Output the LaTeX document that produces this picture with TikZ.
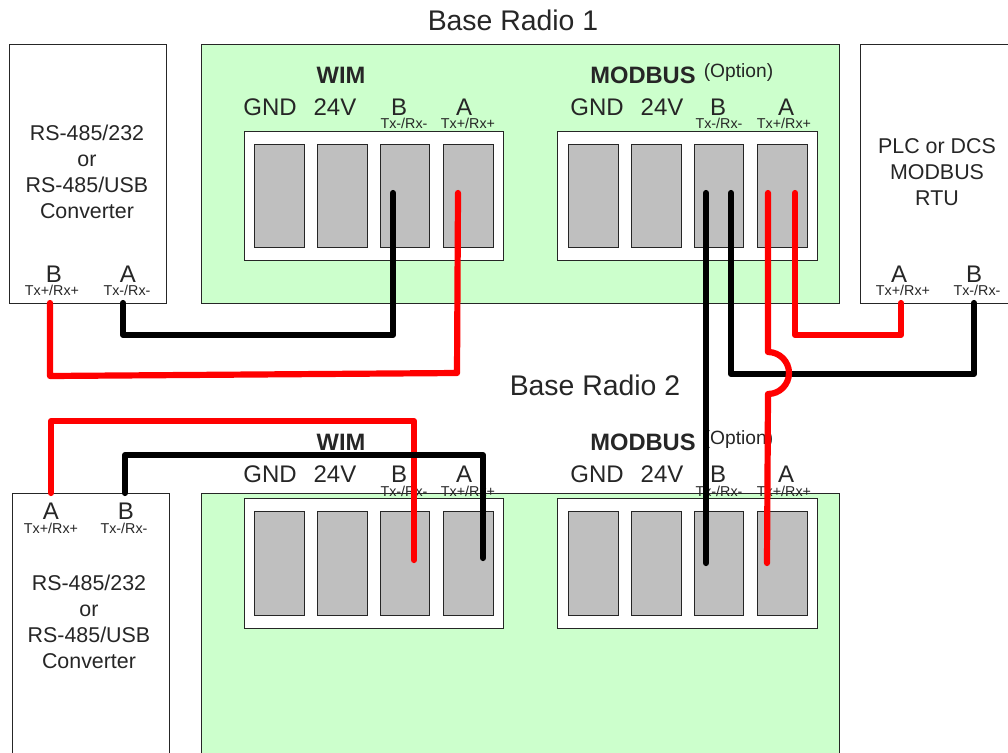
\documentclass[tikz,border=0pt]{standalone}
\usepackage{fontspec}
\setmainfont{Liberation Sans}
\newcommand{\fsz}[1]{\fontsize{#1}{26}\selectfont}
\tikzset{
  x=1pt,y=-1pt,
  boxbase/.style={draw=black!85,line width=1.3pt,anchor=north west,inner sep=0pt,rectangle},
  devbox/.style={boxbase,fill=white},
  radio/.style={boxbase,fill=baseg},
  strip/.style={boxbase,fill=white},
  term/.style={boxbase,fill=termg,minimum width=#1,minimum height=103.5pt},
  ttl/.style={inner sep=0pt,text=txt,font=\fsz{28.4}},
  pin/.style={inner sep=0pt,text=txt,font=\fsz{24}},
  hdr/.style={inner sep=0pt,text=txt,font=\fsz{23.7}\bfseries},
  sub/.style={inner sep=0pt,text=txt,font=\fsz{14.3}},
  opt/.style={inner sep=0pt,text=txt,font=\fsz{19.2}},
  body/.style={inner sep=0pt,text=txt,align=center,font=\fsz{21.4}},
  redw/.style={draw=wred,line width=6.2pt,line join=round,line cap=round},
  blkw/.style={draw=black,line width=6.2pt,line join=round,line cap=round},
}
\definecolor{baseg}{HTML}{CCFFCC}
\definecolor{termg}{HTML}{BFBFBF}
\definecolor{wred}{HTML}{FF0000}
\definecolor{txt}{HTML}{262626}
\begin{document}
\begin{tikzpicture}
\useasboundingbox (0,0) rectangle (1008,752);
\clip (0,0) rectangle (1008,752);
% boxes
\node[devbox,minimum width=157pt,minimum height=259pt] (convA) at (9,44) {};
\node[radio,minimum width=638pt,minimum height=259pt] (radioA) at (201,44) {};
\node[devbox,minimum width=160pt,minimum height=259pt] (plc) at (860,44) {};
\node[radio,minimum width=638pt,minimum height=280pt] (radioB) at (201,493) {};
\node[devbox,minimum width=157pt,minimum height=280pt] (convB) at (12,493) {};
% strips and terminals
\node[strip,minimum width=259pt,minimum height=129pt] (stripA1) at (244,131) {};
\node[strip,minimum width=260pt,minimum height=129pt] (stripA2) at (557,131) {};
\node[strip,minimum width=259pt,minimum height=130pt] (stripB1) at (244,498) {};
\node[strip,minimum width=260pt,minimum height=130pt] (stripB2) at (557,498) {};
\foreach \nm/\xx/\ww in {a/254/50pt,b/317/50pt,c/380/49pt,d/443/50pt,e/568/50pt,f/631/50pt,g/694/49pt,h/757/50pt}{
  \node[term=\ww] (top\nm) at (\xx,143.5) {};
  \node[term=\ww] (bot\nm) at (\xx,511) {};
}
% labels
\node[ttl] (ttlA) at (513,20) {Base Radio 1};
\node[ttl] (ttlB) at (595,385) {Base Radio 2};
\node[hdr] (wimA) at (341,75) {WIM};
\node[hdr] (modA) at (643,75) {MODBUS};
\node[opt] (optA) at (738.5,73) {(Option)};
\node[hdr] (wimB) at (341,442) {WIM};
\node[hdr] (modB) at (643,442) {MODBUS};
\node[opt] (optB) at (738.5,440) {(Option)};
\foreach \pre/\yy/\ys in {u/107/123,l/474/491}{
  \node[pin] (\pre gnd) at (270,\yy) {GND};
  \node[pin] (\pre v) at (335,\yy) {24V};
  \node[pin] (\pre b) at (399,\yy) {B};
  \node[pin] (\pre a) at (464,\yy) {A};
  \node[sub] (\pre sb) at (404,\ys) {Tx-/Rx-};
  \node[sub] (\pre sa) at (468,\ys) {Tx+/Rx+};
  \node[pin] (\pre mgnd) at (597,\yy) {GND};
  \node[pin] (\pre mv) at (662,\yy) {24V};
  \node[pin] (\pre mb) at (718,\yy) {B};
  \node[pin] (\pre ma) at (786,\yy) {A};
  \node[sub] (\pre msb) at (719,\ys) {Tx-/Rx-};
  \node[sub] (\pre msa) at (784,\ys) {Tx+/Rx+};
}
\node[pin] (cb) at (54,274) {B};
\node[sub] (csb) at (52,290) {Tx+/Rx+};
\node[pin] (ca) at (128,274) {A};
\node[sub] (csa) at (127,290) {Tx-/Rx-};
\node[pin] (da) at (51,511) {A};
\node[sub] (dsa) at (51,528) {Tx+/Rx+};
\node[pin] (db) at (126,511) {B};
\node[sub] (dsb) at (124,528) {Tx-/Rx-};
\node[pin] (pa) at (899,274) {A};
\node[sub] (psa) at (903,290) {Tx+/Rx+};
\node[pin] (pb) at (974,274) {B};
\node[sub] (psb) at (977,290) {Tx-/Rx-};
\node[body] (tA) at (87,172) {RS-485/232\\or\\RS-485/USB\\Converter};
\node[body] (tB) at (89,622) {RS-485/232\\or\\RS-485/USB\\Converter};
\node[body] (tP) at (937,172) {PLC or DCS\\MODBUS\\RTU};
% connector ends
\coordinate (cR) at (50,303);
\coordinate (cK) at (123,303);
\coordinate (dR) at (51,493);
\coordinate (dK) at (125,493);
\coordinate (pR) at (901,303);
\coordinate (pK) at (974,303);
\coordinate (wtK) at (393,193);
\coordinate (wtR) at (458,193);
\coordinate (wbR) at (414,560);
\coordinate (wbK) at (483,558);
\coordinate (mtK1) at (706,193);
\coordinate (mtK2) at (731,193);
\coordinate (mtR1) at (768,193);
\coordinate (mtR2) at (795,193);
\coordinate (mbK) at (706,563);
\coordinate (mbR) at (767,563);
\coordinate (hopS) at (768,352);
% wires
\draw[blkw] (cK) |- (393,335) -- (wtK);
\draw[redw] (cR) -- (50,376) -- (457,373) -- (wtR);
\draw[redw] (dR) |- (414,421) -- (wbR);
\draw[blkw] (dK) |- (483,455) -- (wbK);
\draw[blkw] (mtK1) -- (mbK);
\draw[blkw] (mtK2) |- (974,374) -- (pK);
\draw[redw] (mtR2) |- (901,335) -- (pR);
\draw[redw] (mtR1) -- (hopS) arc[start angle=90,end angle=-90,radius=21pt] -- (mbR);
\end{tikzpicture}
\end{document}
